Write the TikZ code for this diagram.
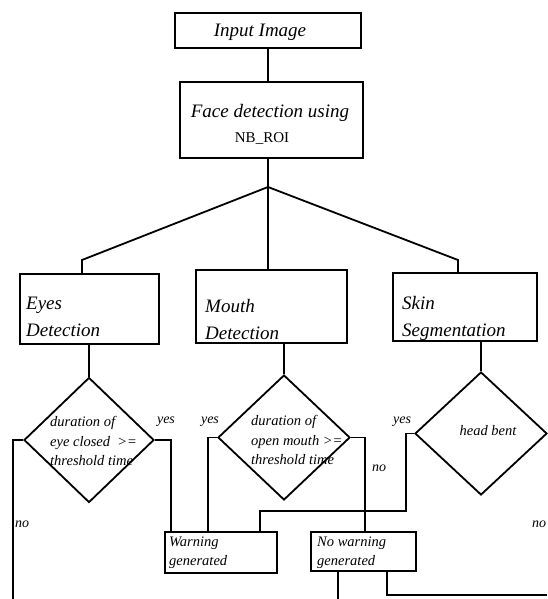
\documentclass[tikz,border=0pt]{standalone}
\usepackage{fontspec}
\setmainfont{Liberation Serif}
\usepackage{tikz}
\usetikzlibrary{shapes.geometric,positioning,calc}

\begin{document}
\begin{tikzpicture}[
  x=1pt,y=-1pt,
  box/.style={draw,line width=1.8pt,inner sep=0pt},
  btext/.style={align=left,inner sep=0pt,font=\fontsize{19}{27}\selectfont\itshape},
  wtext/.style={align=left,inner sep=0pt,font=\fontsize{14.5}{19}\selectfont\itshape},
  cond/.style={diamond,draw,line width=1.8pt,inner sep=0pt},
  ctext/.style={align=left,inner sep=0pt,font=\fontsize{14.5}{19.5}\selectfont\itshape},
  lbl/.style={inner sep=0pt,font=\fontsize{14}{14}\selectfont\itshape},
  wire/.style={line width=1.8pt}
]
\useasboundingbox (0,0) rectangle (547,599);

\node[box,minimum width=186pt,minimum height=35pt] (input) at (268,30.5) {};
\node[btext] (inputtxt) at (260,32) {Input Image};
\node[box,minimum width=183pt,minimum height=76pt] (face) at (271.5,120) {};
\node[btext] (facetxt) at (270,113) {Face detection using};
\node[inner sep=0pt,font=\fontsize{15}{16}\selectfont] (roi) at (262,139) {NB\_ROI};

\node[box,minimum width=139pt,minimum height=70pt] (eyes) at (89.5,309) {};
\node[btext,anchor=west] (eyestxt) at (26,317) {Eyes\\Detection};
\node[box,minimum width=151pt,minimum height=73pt] (mouth) at (271.5,306.5) {};
\node[btext,anchor=west] (mouthtxt) at (205,319) {Mouth\\Detection};
\node[box,minimum width=144pt,minimum height=68pt] (skin) at (465,307) {};
\node[btext,anchor=west] (skintxt) at (402,318) {Skin\\Segmentation};

\node[cond,minimum width=130pt,minimum height=125pt] (d1) at (89,440) {};
\node[ctext,anchor=west] (t1) at (50,441) {duration of\\eye closed\ \ >=\\threshold time};
\node[cond,minimum width=132pt,minimum height=125pt] (d2) at (284,437.5) {};
\node[ctext,anchor=west] (t2) at (251,440) {duration of\\open mouth >=\\threshold time};
\node[cond,minimum width=132pt,minimum height=123pt] (d3) at (481,433.5) {};
\node[ctext] (t3) at (488,431) {head bent};

\node[box,minimum width=112pt,minimum height=41pt] (warn) at (221,552.5) {};
\node[wtext,anchor=west] (warntxt) at (169,553) {Warning\\generated};
\node[box,minimum width=105pt,minimum height=39pt] (nowarn) at (363.5,551.5) {};
\node[wtext,anchor=west] (nowarntxt) at (317,553) {No warning\\generated};

\coordinate (br) at (268,187);
\coordinate (bl) at (82,260);
\coordinate (brr) at (458,260);
\coordinate (e1) at (13,599);
\coordinate (e2) at (338,599);
\coordinate (e3) at (547,595);

\draw[wire] (input.south) -- (input.south |- face.north);
\draw[wire] (face.south -| br) -- (br);
\draw[wire] (br) -- (bl) -- (bl |- eyes.north);
\draw[wire] (br) -- (br |- mouth.north);
\draw[wire] (br) -- (brr) -- (brr |- skin.north);
\draw[wire] (d1.north |- eyes.south) -- (d1.north);
\draw[wire] (d2.north |- mouth.south) -- (d2.north);
\draw[wire] (d3.north |- skin.south) -- (d3.north);

\draw[wire] (d1.west) -| (e1);
\draw[wire] (d1.east) -| ($(warn.north west)+(7,0)$);
\draw[wire] (d2.west) -| ($(warn.north)+(-13,0)$);
\draw[wire] (d2.east) -| ($(nowarn.north)+(1.5,0)$);
\draw[wire] (d3.west) -- ++(-8,0) |- ($(warn.north)+(39,-20)$) -- ($(warn.north)+(39,0)$);
\draw[wire] (nowarn.south -| e2) -- (e2);
\draw[wire] ($(nowarn.south)+(23.5,0)$) |- (e3);

\node[lbl] (yes1) at (166,422) {yes};
\node[lbl] (yes2) at (210,422) {yes};
\node[lbl] (yes3) at (402,422) {yes};
\node[lbl] (no1) at (22,524) {no};
\node[lbl] (no2) at (379,468) {no};
\node[lbl] (no3) at (539,524) {no};
\end{tikzpicture}
\end{document}
